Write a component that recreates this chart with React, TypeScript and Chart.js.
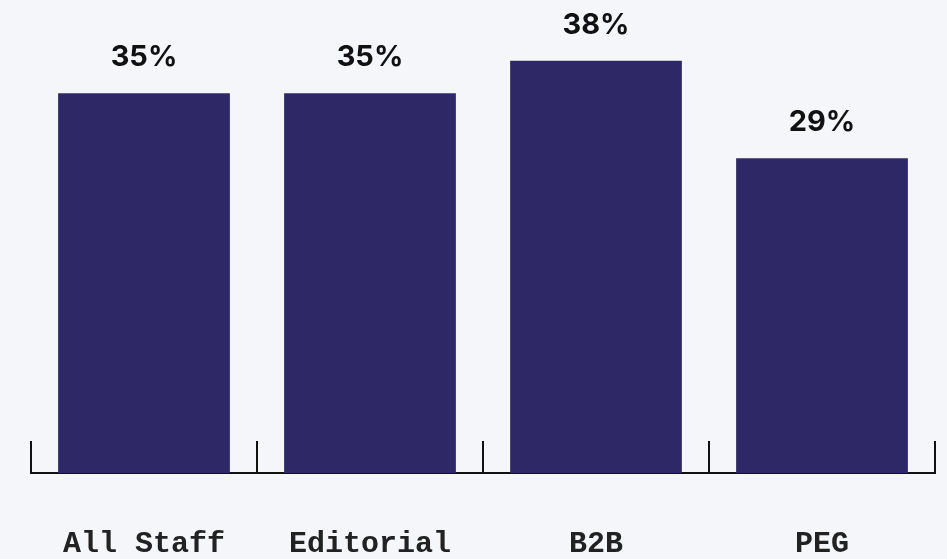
import React, { useEffect, useRef } from "react";
import { Chart, registerables } from "chart.js";

Chart.register(...registerables);

const categories = ["All Staff", "Editorial", "B2B", "PEG"];
const values = [35, 35, 38, 29];
const valueLabels = ["35%", "35%", "38%", "29%"];

const BAR_COLOR = "#2e2867";
const BG = "#f5f6fa";

const valueLabelPlugin = {
  id: "valueLabels",
  afterDatasetsDraw(chart: any) {
    const ctx = chart.ctx;
    const meta = chart.getDatasetMeta(0);
    ctx.save();
    ctx.font = "700 29px Inter, 'Noto Sans', sans-serif";
    ctx.fillStyle = "#111111";
    ctx.textAlign = "center";
    ctx.textBaseline = "alphabetic";
    meta.data.forEach((bar: any, i: number) => {
      ctx.fillText(valueLabels[i], bar.x, bar.y - 27);
    });
    ctx.restore();
  },
};

export default function App() {
  const ref = useRef<HTMLCanvasElement | null>(null);
  useEffect(() => {
    if (!ref.current) return;
    const chart = new Chart(ref.current, {
      type: "bar",
      data: {
        labels: categories,
        datasets: [
          {
            data: values,
            backgroundColor: BAR_COLOR,
            borderWidth: 0,
            barPercentage: 0.76,
            categoryPercentage: 1,
          },
        ],
      },
      options: {
        animation: false,
        responsive: false,
        devicePixelRatio: 1,
        layout: { padding: { left: 31, right: 12, top: 39, bottom: 0 } },
        plugins: {
          legend: { display: false },
          tooltip: { enabled: false },
        },
        scales: {
          y: {
            display: false,
            min: 0,
            max: 40,
          },
          x: {
            border: { display: true, color: "#111111", width: 2 },
            grid: {
              offset: true,
              drawOnChartArea: false,
              drawTicks: true,
              tickLength: -32,
              color: "#111111",
              lineWidth: 2,
            },
            ticks: {
              padding: 85,
              color: "#222222",
              font: { family: "'Liberation Mono', 'Courier New', monospace", size: 30, weight: "bold" },
              maxRotation: 0,
              autoSkip: false,
            },
            afterFit: (scale: any) => {
              scale.height = 86;
              scale.paddingLeft = 0;
              scale.paddingRight = 0;
            },
          },
        },
      },
      plugins: [valueLabelPlugin],
    });
    return () => chart.destroy();
  }, []);
  return (
    <div style={{ position: "fixed", left: 0, top: 0, width: 947, height: 559, background: BG }}>
      <canvas ref={ref} width={947} height={559} style={{ display: "block" }} />
    </div>
  );
}
